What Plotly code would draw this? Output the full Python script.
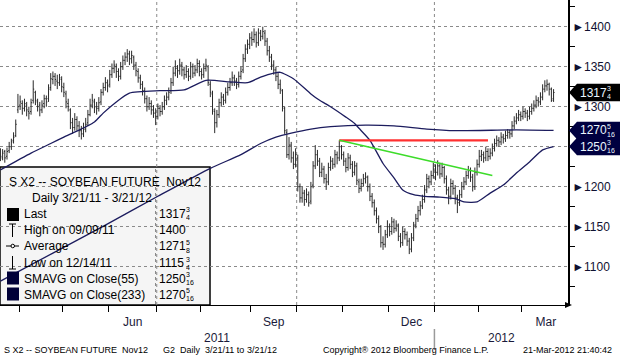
import pandas as pd
import plotly.graph_objects as go

FONT = "Liberation Sans, Arial, sans-serif"

# ---------------- data ----------------
holidays = ["2011-04-22", "2011-05-30", "2011-07-04", "2011-09-05", "2011-11-24",
            "2011-12-26", "2012-01-02", "2012-01-16", "2012-02-20", "2012-04-06"]

opens = [
    1240,1236,1244,1238,1245,1250,1258,1264,1296,1302, 1304,1298,1302,1294,1294,1308,1318,1306,1302,1296,
    1304,1310,1310,1324,1334,1338,1332,1330,1334,1324, 1316,1304,1296,1280,1274,1284,1276,1270,1266,1272,
    1280,1290,1302,1306,1300,1298,1306,1318,1324,1330, 1328,1340,1348,1350,1344,1338,1350,1358,1362,1366,
    1360,1362,1352,1344,1336,1328,1320,1310,1300,1304, 1296,1292,1288,1298,1294,1300,1308,1312,1320,1330,
    1342,1348,1345,1352,1346,1340,1344,1338,1350,1342, 1346,1354,1344,1340,1348,1350,1328,1316,1294,1280,
    1290,1305,1312,1308,1318,1324,1330,1336,1332,1328, 1338,1346,1360,1372,1378,1386,1384,1390,1380,1392,
    1388,1392,1382,1370,1362,1352,1346,1338,1328,1320, 1298,1268,1240,1252,1236,1228,1236,1200,1186,1192,
    1184,1190,1182,1202,1226,1240,1232,1218,1222,1210, 1206,1224,1232,1228,1240,1236,1250,1240,1232,1224,
    1236,1228,1218,1226,1206,1198,1204,1210,1212,1200, 1188,1180,1170,1160,1150,1130,1128,1140,1150,1144,
    1156,1148,1152,1138,1130,1144,1140,1132,1122,1136, 1152,1160,1170,1176,1184,1196,1210,1206,1214,1222,
    1218,1226,1216,1224,1210,1196,1188,1204,1198,1186, 1180,1190,1200,1206,1214,1220,1212,1200,1218,1228,
    1238,1240,1236,1244,1238,1242,1248,1254,1258,1256, 1262,1260,1264,1268,1266,1276,1282,1286,1290,1288,
    1294,1292,1288,1294,1298,1302,1308,1306,1312,1322, 1326,1328,1322,1310]

highs = [
    1248,1247,1246,1249,1256,1260,1268,1284,1316,1314, 1308,1310,1306,1300,1310,1333,1320,1310,1306,1308,
    1315,1314,1328,1342,1344,1342,1340,1341,1338,1330, 1320,1310,1298,1286,1292,1288,1282,1276,1280,1286,
    1296,1310,1316,1310,1306,1312,1322,1330,1337,1334, 1346,1354,1358,1354,1348,1356,1364,1368,1372,1370,
    1370,1364,1356,1348,1340,1332,1324,1314,1312,1308, 1302,1298,1304,1302,1306,1314,1318,1324,1336,1350,
    1358,1352,1360,1356,1350,1352,1348,1356,1354,1352, 1360,1358,1348,1354,1360,1352,1332,1320,1298,1296,
    1310,1318,1316,1324,1330,1336,1344,1340,1336,1344, 1350,1366,1378,1384,1392,1394,1398,1394,1398,1396,
    1400,1396,1386,1376,1366,1358,1350,1342,1334,1322, 1300,1272,1262,1256,1244,1248,1240,1204,1200,1196,
    1198,1194,1206,1232,1252,1246,1236,1230,1226,1216, 1230,1238,1236,1246,1244,1258,1252,1244,1236,1242,
    1240,1232,1232,1230,1210,1210,1216,1218,1214,1204, 1192,1184,1174,1164,1152,1138,1146,1158,1154,1162,
    1160,1158,1154,1142,1150,1148,1144,1136,1142,1156, 1166,1176,1182,1190,1202,1216,1214,1220,1230,1228,
    1233,1230,1230,1226,1214,1200,1210,1208,1202,1190, 1196,1206,1212,1220,1226,1224,1216,1224,1234,1246,
    1246,1244,1250,1248,1248,1254,1260,1264,1262,1268, 1266,1270,1272,1271,1282,1288,1292,1296,1294,1300,
    1298,1296,1300,1304,1308,1314,1312,1318,1328,1333, 1334,1330,1324,1322]

lows = [
    1232,1233,1230,1234,1242,1246,1254,1262,1292,1296, 1290,1294,1288,1284,1290,1304,1302,1294,1288,1292,
    1298,1300,1306,1320,1328,1326,1322,1326,1318,1312, 1298,1294,1272,1266,1270,1270,1262,1259,1262,1268,
    1276,1288,1298,1292,1290,1294,1302,1314,1320,1318, 1324,1336,1342,1336,1332,1334,1346,1352,1356,1352,
    1354,1346,1338,1330,1322,1314,1304,1294,1296,1290, 1286,1277,1284,1288,1290,1296,1302,1308,1316,1326,
    1338,1336,1340,1338,1334,1336,1332,1334,1336,1338, 1342,1338,1334,1336,1344,1326,1312,1290,1267,1274,
    1286,1300,1302,1304,1314,1320,1326,1326,1322,1324, 1334,1342,1356,1366,1372,1376,1380,1374,1376,1382,
    1384,1376,1364,1356,1346,1340,1332,1322,1316,1294, 1266,1236,1234,1230,1222,1224,1194,1180,1180,1176,
    1180,1175,1178,1198,1222,1226,1212,1212,1204,1196, 1202,1220,1222,1224,1228,1232,1234,1226,1218,1220,
    1222,1212,1214,1202,1192,1194,1200,1204,1194,1182, 1174,1164,1154,1142,1124,1121,1124,1136,1138,1140,
    1142,1144,1132,1124,1126,1134,1126,1115.75,1118,1132, 1148,1156,1164,1172,1180,1192,1198,1202,1210,1208,
    1214,1210,1212,1204,1190,1178,1184,1190,1178,1167, 1176,1186,1196,1202,1210,1206,1194,1196,1214,1224,
    1232,1230,1232,1232,1234,1238,1244,1250,1250,1252, 1254,1256,1260,1260,1262,1272,1278,1282,1282,1284,
    1286,1282,1284,1290,1294,1298,1300,1302,1308,1318, 1320,1314,1306,1306]

closes = [
    1238,1242,1236,1244,1250,1256,1262,1278,1300,1306, 1298,1304,1296,1292,1305,1322,1308,1300,1296,1302,
    1310,1306,1322,1335,1338,1334,1330,1336,1325,1318, 1306,1300,1280,1274,1284,1276,1270,1266,1272,1278,
    1290,1302,1308,1300,1298,1305,1318,1324,1330,1326, 1340,1348,1352,1344,1338,1350,1358,1362,1366,1360,
    1364,1352,1345,1336,1328,1320,1310,1300,1304,1296, 1292,1288,1298,1294,1300,1308,1312,1318,1330,1342,
    1348,1345,1352,1346,1340,1344,1338,1350,1342,1346, 1354,1344,1340,1348,1352,1330,1318,1296,1280,1290,
    1305,1312,1308,1318,1324,1330,1336,1332,1328,1338, 1344,1360,1372,1378,1386,1384,1390,1380,1392,1388,
    1394,1382,1370,1362,1352,1346,1338,1328,1322,1300, 1270,1240,1252,1236,1228,1240,1200,1186,1192,1184,
    1190,1180,1200,1226,1240,1232,1218,1222,1210,1206, 1224,1232,1228,1240,1236,1250,1240,1232,1224,1236,
    1228,1218,1226,1208,1198,1204,1210,1212,1200,1188, 1180,1170,1160,1150,1130,1128,1140,1150,1144,1156,
    1148,1152,1138,1130,1144,1140,1132,1122,1136,1152, 1160,1170,1176,1184,1196,1210,1206,1214,1222,1218,
    1226,1216,1224,1210,1196,1188,1204,1198,1186,1180, 1190,1200,1206,1214,1220,1212,1200,1218,1228,1238,
    1240,1236,1244,1238,1242,1248,1254,1258,1256,1262, 1260,1264,1268,1266,1276,1282,1286,1290,1288,1294,
    1292,1288,1294,1298,1302,1308,1306,1312,1322,1326, 1328,1322,1308,1317.75]

# moving averages (trading-day index, value)
sma55_day = [0, 14, 23, 29, 33, 43, 47, 53, 59, 73, 84, 94, 105, 113, 119, 125, 128, 134, 142, 146,
             151, 158, 162, 164, 169, 175, 180, 184, 189, 194, 201, 208, 212, 218, 224, 230, 236, 242, 248, 253]
sma55_val = [1221, 1242, 1254, 1262, 1267, 1281, 1292, 1306, 1317, 1320, 1321, 1333, 1331, 1330, 1337, 1342, 1343, 1335, 1316, 1308,
             1300, 1287, 1279, 1273, 1258, 1229, 1211, 1196, 1190, 1188, 1187, 1185, 1181, 1181, 1192, 1202, 1217, 1231, 1246, 1250.19]

sma233_day = [0, 24, 48, 72, 96, 110, 119, 126, 133, 142, 151, 167, 180, 195, 208, 236, 253]
sma233_val = [1082, 1117, 1152, 1188, 1223, 1240, 1254, 1262, 1267, 1272, 1275, 1277, 1276, 1272, 1270, 1271, 1270.31]

# drawn trend lines
red_day, red_val = [155, 223], [1258, 1258]
green_day, green_val = [155, 225], [1258, 1214]

y_ticks = [1100, 1150, 1200, 1250, 1300, 1350, 1400]
y_hidden = [1250]  # label sits under the SMA flags
quarter_months = {6: "Jun", 9: "Sep", 12: "Dec", 3: "Mar"}
grid_months = [7, 10, 1]

legend_labels = ["Last", "High on 09/09/11", "Average", "Low on 12/14/11",
                 "SMAVG on Close(55)", "SMAVG on Close(233)"]
legend_whole = ["1317", "1400", "1271", "1115", "1250", "1270"]
legend_frac = [("3", "4"), None, ("5", "8"), ("3", "4"), ("3", "16"), ("5", "16")]

# ---------------- x positions from trading calendar ----------------
axis_dates = [d for d in pd.bdate_range("2011-03-21", "2012-04-30")
              if d.strftime("%Y-%m-%d") not in holidays]
n = len(closes)
days = list(range(n))
month_start = [i for i in range(1, len(axis_dates)) if axis_dates[i].month != axis_dates[i - 1].month]
boundaries = [i - 0.5 for i in month_start]

label_vals, label_text = [], []
for k, s in enumerate(month_start[:-1]):
    m = axis_dates[s].month
    if m in quarter_months:
        label_vals.append((s + month_start[k + 1]) / 2 - 0.5)
        label_text.append(quarter_months[m])
grid_x = [s - 0.5 for s in month_start if axis_dates[s].month in grid_months and s < n + 5]
year_break = [s - 0.5 for s in month_start if axis_dates[s].month == 1][0]

XR = [-0.2, 259.6]
YR = [1052.1, 1433.4]
PW, PH = 568.0, 305.0
UNIT = (YR[1] - YR[0]) / PH


def px(x):
    return x / PW


def py(y):
    return (PH - y) / PH


fig = go.Figure()
fig.add_trace(go.Ohlc(x=days, open=opens, high=highs, low=lows, close=closes,
                      increasing=dict(line=dict(color="#2a2a2a", width=1)),
                      decreasing=dict(line=dict(color="#2a2a2a", width=1)),
                      tickwidth=0.45, showlegend=False, hoverinfo="skip"))
fig.add_trace(go.Scatter(x=sma233_day, y=sma233_val, mode="lines", showlegend=False,
                         line=dict(color="#1c1c5e", width=1.3, shape="spline", smoothing=0.6)))
fig.add_trace(go.Scatter(x=sma55_day, y=sma55_val, mode="lines", showlegend=False,
                         line=dict(color="#1c1c5e", width=1.3, shape="spline", smoothing=0.6)))
fig.add_trace(go.Scatter(x=red_day, y=red_val, mode="lines", showlegend=False,
                         line=dict(color="#ff3030", width=2.2)))
fig.add_trace(go.Scatter(x=green_day, y=green_val, mode="lines", showlegend=False,
                         line=dict(color="#3ddc2a", width=1.6)))

shapes = []
# legend box
shapes.append(dict(type="rect", xref="paper", yref="paper", x0=px(0), x1=px(210), y0=py(305), y1=py(167),
                   fillcolor="#f5f5f5", line=dict(color="black", width=1.5), layer="between"))
# vertical dotted gridlines
for gx in grid_x:
    shapes.append(dict(type="line", xref="x", yref="paper", x0=gx, x1=gx, y0=0, y1=1,
                       line=dict(color="#8a8a8a", width=1, dash="dot"), layer="between"))
# year separator
shapes.append(dict(type="line", xref="x", yref="paper", x0=year_break, x1=year_break, y0=py(329), y1=py(350),
                   line=dict(color="#9a9a9a", width=1.5)))
# x axis arrow
shapes.append(dict(type="path", xref="paper", yref="paper",
                   path=f"M {px(565)},{py(302)} L {px(572)},{py(305)} L {px(565)},{py(308)} Z",
                   fillcolor="black", line=dict(color="black", width=0)))
# legend icons
shapes.append(dict(type="rect", xref="paper", yref="paper", x0=px(7), x1=px(19), y0=py(221), y1=py(208),
                   fillcolor="black", line=dict(width=0)))
for yy in (284.5, 300.5):
    shapes.append(dict(type="rect", xref="paper", yref="paper", x0=px(7), x1=px(19), y0=py(yy), y1=py(yy - 13),
                       fillcolor="#000038", line=dict(width=0)))
icon = dict(color="black", width=1)
shapes += [
    dict(type="line", xref="paper", yref="paper", x0=px(12.5), x1=px(12.5), y0=py(237), y1=py(224), line=icon),
    dict(type="line", xref="paper", yref="paper", x0=px(9), x1=px(16), y0=py(224), y1=py(224), line=icon),
    dict(type="line", xref="paper", yref="paper", x0=px(6), x1=px(19), y0=py(246), y1=py(246), line=icon),
    dict(type="circle", xref="paper", yref="paper", x0=px(11), x1=px(14.5), y0=py(247.8), y1=py(244.2),
         fillcolor="white", line=icon),
    dict(type="line", xref="paper", yref="paper", x0=px(12.5), x1=px(12.5), y0=py(269), y1=py(256), line=icon),
    dict(type="line", xref="paper", yref="paper", x0=px(9), x1=px(16), y0=py(269), y1=py(269), line=icon),
]

ann = []


def text(x, y, s, size=12, color="black", xref="paper", yref="paper", xanchor="left", **kw):
    ann.append(dict(x=x, y=y, xref=xref, yref=yref, text=s, showarrow=False, xanchor=xanchor,
                    yanchor="middle", font=dict(family=FONT, size=size, color=color), **kw))


def number(x, y, whole, frac, color, yref="paper"):
    text(x, y, whole, 12, color, yref=yref)
    if frac:
        text(x, y, frac[0], 7, color, yref=yref, xshift=27, yshift=4.5, height=8)
        text(x, y, frac[1], 7, color, yref=yref, xshift=27, yshift=-3.5, height=8)


# right-hand value flags
flags = [(closes[-1], "1317", ("3", "4"), "#000000"),
         (sma233_val[-1], "1270", ("5", "16"), "#000040"),
         (sma55_val[-1], "1250", ("3", "16"), "#000040")]
for v, whole, frac, bg in flags:
    h = 8.8 * UNIT
    shapes.append(dict(type="path", xref="paper", yref="y",
                       path=f"M {px(569)},{v} L {px(577)},{v + h} L {px(620)},{v + h} "
                            f"L {px(620)},{v - h} L {px(577)},{v - h} Z",
                       fillcolor=bg, line=dict(width=0), layer="above"))
    number(px(578), v, whole, frac, "#eaf6ff", yref="y")

# legend texts
text(px(7), py(182), "S X2 -- SOYBEAN FUTURE\u00a0\u00a0Nov12")
text(px(30), py(198), "Daily 3/21/11 - 3/21/12")
row_y = [214, 230, 246.5, 263, 278.5, 294.5]
for lab, whole, frac, ry in zip(legend_labels, legend_whole, legend_frac, row_y):
    text(px(22), py(ry), lab)
    number(px(157), py(ry), whole, frac, "black")
shapes.append(dict(type="line", xref="paper", yref="paper", x0=px(155.5), x1=px(155.5), y0=py(304), y1=py(168),
                   line=dict(color="#8a8a8a", width=1, dash="dot"), layer="between"))

# year labels
text((XR[0] + year_break) / 2, py(338), "2011", 12, "#1a1a3a", xref="x", xanchor="center")
text((year_break + XR[1]) / 2, py(338), "2012", 12, "#1a1a3a", xref="x", xanchor="center")

# footer
footer = [(2, "S X2 -- SOYBEAN FUTURE\u00a0\u00a0Nov12"),
          (161, "G2\u00a0\u00a0Daily\u00a0\u00a03/21/11 to 3/21/12"),
          (321, "Copyright\u00ae 2012 Bloomberg Finance L.P."),
          (521, "21-Mar-2012 21:40:42")]
for fx, s in footer:
    text(px(fx), py(349.5), s, 9, "black")

fig.update_layout(
    width=620, height=357, autosize=False,
    margin=dict(l=0, r=52, t=0, b=52, pad=0),
    paper_bgcolor="white", plot_bgcolor="white",
    showlegend=False, hovermode=False,
    shapes=shapes, annotations=ann,
    font=dict(family=FONT, size=12, color="#1a1a3a"),
    xaxis=dict(range=XR, rangeslider=dict(visible=False), showgrid=False, zeroline=False,
               showline=True, linecolor="black", linewidth=1,
               tickmode="array", tickvals=label_vals, ticktext=label_text, ticks="",
               ticklabelstandoff=6, tickfont=dict(size=12, color="#1a1a3a"),
               minor=dict(tickmode="array", tickvals=boundaries, ticks="outside", ticklen=6,
                          tickcolor="black", tickwidth=1, showgrid=False)),
    yaxis=dict(range=YR, side="right", showgrid=True, gridcolor="#8a8a8a", griddash="dot", gridwidth=1,
               zeroline=False, showline=True, linecolor="black", linewidth=1.5,
               tickmode="array", tickvals=y_ticks,
               ticktext=["" if t in y_hidden else "\u25ba" + str(t) for t in y_ticks],
               ticks="", ticklabelstandoff=0, tickfont=dict(size=12, color="#101030"),
               minor=dict(tickmode="array", tickvals=[t + 25 for t in range(1050, 1450, 50)],
                          ticks="outside", ticklen=5, tickcolor="black", tickwidth=1, showgrid=False)),
)

fig.write_html("out.html", config={"displayModeBar": False},
               post_script="document.body.style.margin='0';document.body.style.overflow='hidden';")
